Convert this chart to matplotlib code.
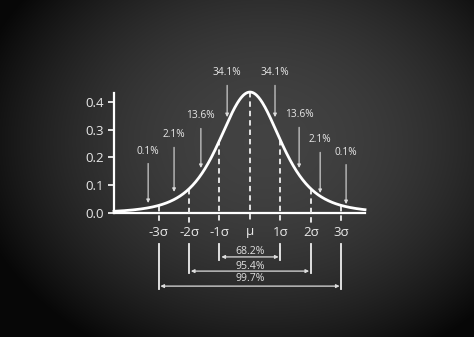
import numpy as np
import matplotlib
matplotlib.use("Agg")
from matplotlib import pyplot as plt

plt.rcParams['font.family'] = ['Open Sans', 'DejaVu Sans']

# data
sigma_pos = [-3, -2, -1, 0, 1, 2, 3]
sigma_labels = ['-3σ', '-2σ', '-1σ', 'μ', '1σ', '2σ', '3σ']
y_ticks = [0.0, 0.1, 0.2, 0.3, 0.4]

area_labels = ['0.1%', '2.1%', '13.6%', '34.1%', '34.1%', '13.6%', '2.1%', '0.1%']
area_x = [-3.34, -2.49, -1.61, -0.75, 0.82, 1.61, 2.30, 3.15]
area_text_y = [0.223, 0.281, 0.349, 0.504, 0.504, 0.353, 0.263, 0.219]
area_tip_y = [0.036, 0.076, 0.162, 0.345, 0.345, 0.162, 0.072, 0.032]

range_k = [1, 2, 3]
range_labels = ['68.2%', '95.4%', '99.7%']

# bell curve shape (peak height, width, tail)
peak = 0.435
width = 1.05
tail = 4.0


def bell(x):
    return peak * (1 + (x / width) ** 2 / tail) ** (-(tail + 1) / 2)


W, H = 474, 337
fig = plt.figure(figsize=(W / 100, H / 100), dpi=100)

# chalkboard background
bg = fig.add_axes([0, 0, 1, 1])
gx, gy = np.meshgrid(np.linspace(0, 1, W), np.linspace(0, 1, H))
r2 = ((gx - 0.56) / 0.62) ** 2 + ((gy - 0.42) / 0.7) ** 2
shade = np.clip(0.26 - 0.22 * r2, 0.03, 1)
bg.imshow(np.dstack([shade] * 3), aspect='auto', extent=[0, 1, 0, 1])
bg.axis("off")

# main axes, px -> data: 30.5 px per sigma, 278 px per 1.0
ax = fig.add_axes([114 / W, (H - 213) / H, 251 / W, 120 / H])
ax.patch.set_alpha(0)
ax.set_xlim((114 - 250) / 30.5, (365 - 250) / 30.5)
ax.set_ylim(0, 120 / 278)

xs = np.linspace(ax.get_xlim()[0], ax.get_xlim()[1], 400)
ax.plot(xs, bell(xs), color='white', lw=2, clip_on=False, zorder=5)

for s in ['top', 'right']:
    ax.spines[s].set_visible(False)
for s in ['left', 'bottom']:
    ax.spines[s].set_color('white')
    ax.spines[s].set_linewidth(1.6)

ax.set_yticks(y_ticks)
ax.set_yticklabels(['%.1f' % v for v in y_ticks])
ax.tick_params(axis='y', colors='white', labelcolor='#e8e8e8', length=4,
               width=1.2, pad=3, labelsize=9.5)
ax.set_xticks(sigma_pos)
ax.set_xticklabels(sigma_labels)
ax.tick_params(axis='x', length=0, pad=9, labelcolor='#e8e8e8', labelsize=9.5)

# dashed sigma lines
for x in sigma_pos:
    ax.plot([x, x], [bell(x), -0.036], color='#f0f0f0', lw=1.3,
            ls=(0, (3, 2.2)), clip_on=False, zorder=4)

# percentage arrows
for lab, x, ty, tip in zip(area_labels, area_x, area_text_y, area_tip_y):
    ax.annotate(lab, xy=(x, tip), xytext=(x, ty), ha='center', va='center',
                fontsize=7.3, color='#e8e8e8', annotation_clip=False,
                arrowprops=dict(arrowstyle='-|>', color='#dddddd', lw=0.8,
                                mutation_scale=5, shrinkA=3, shrinkB=0))

# range brackets
bottoms = [-0.169, -0.216, -0.273]
arrow_y = [-0.158, -0.209, -0.263]
text_y = [-0.140, -0.191, -0.237]
for k, lab, yb, ya, yt in zip(range_k, range_labels, bottoms, arrow_y, text_y):
    for x in (-k, k):
        ax.plot([x, x], [-0.1115, yb], color='#eeeeee', lw=1.3, clip_on=False)
    ax.annotate('', xy=(-k + 0.06, ya), xytext=(k - 0.06, ya),
                annotation_clip=False,
                arrowprops=dict(arrowstyle='<|-|>', color='#dddddd', lw=0.9,
                                mutation_scale=5, shrinkA=0, shrinkB=0))
    ax.text(0, yt, lab, ha='center', va='center', fontsize=7.6,
            color='#e0e0e0', clip_on=False)

fig.savefig("out.png", dpi=100)
